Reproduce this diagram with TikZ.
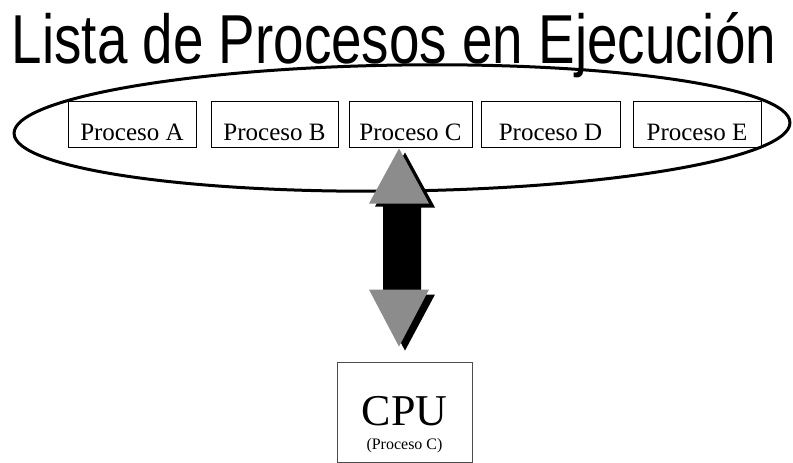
\documentclass[tikz,border=0pt]{standalone}
\usepackage{graphicx}
\usepackage{fontspec}
\setmainfont{Liberation Serif}
\newfontfamily\titlefont{Liberation Sans}
\usetikzlibrary{positioning,calc}

\tikzset{
  proc/.style={draw,line width=1pt,inner sep=0pt,text height=39pt,text depth=7pt,
    font=\fontsize{25}{25}\selectfont},
  head/.style={fill=black!45},
}

\begin{document}
\begin{tikzpicture}[x=1pt,y=-1pt]
\useasboundingbox (0,0) rectangle (793,463);

% title
\node[anchor=base,inner sep=0pt] (titulo) at (394,63)
  {\scalebox{0.83}[1.05]{\titlefont\fontsize{66}{66}\selectfont Lista de Procesos en Ejecución}};

% the list, round the process boxes
\draw[line width=3pt,rotate around={0.8:(402,128)}] (402,128) ellipse [x radius=388, y radius=63];

\node[proc,minimum width=128pt] (pA) at (132,124)   {Proceso A};
\node[proc,minimum width=127pt] (pB) at (274.5,124) {Proceso B};
\node[proc,minimum width=123pt] (pC) at (410.5,124) {Proceso C};
\node[proc,minimum width=139pt] (pD) at (550.5,124) {Proceso D};
\node[proc,minimum width=128pt] (pE) at (697,124)   {Proceso E};

% processor
\node[draw=black!70,line width=0.8pt,inner sep=0pt,minimum width=135pt,minimum height=100pt,
  font=\fontsize{44}{44}\selectfont] (cpu) at (404.5,412) {\raisebox{3pt}{CPU}};
\node[anchor=base,inner sep=0pt,font=\fontsize{16}{16}\selectfont] (cpuproc)
  at ($(cpu.center)+(0,37)$) {(Proceso C)};

% double arrow between C and the CPU
\coordinate (up) at ($(pC.south)+(-11.5,1)$);
\coordinate (dn) at ($(cpu.north)+(-5.5,-15)$);
\fill ($(up)+(6,4)$) -- ++(30,55) -- ++(-14,0) -- ++(0,87) -- ++(14,0)
  -- ($(dn)+(6,4)$) -- ++(-30,-57) -- ++(14,0) -- ++(0,-87) -- ++(-14,0) -- cycle;
\fill ($(up)+(-16,55)$) rectangle ++(32,87);
\fill[head] (up) -- ++(30,55) -- ++(-60,0) -- cycle;
\fill[head] (dn) -- ++(30,-57) -- ++(-60,0) -- cycle;
\end{tikzpicture}
\end{document}
